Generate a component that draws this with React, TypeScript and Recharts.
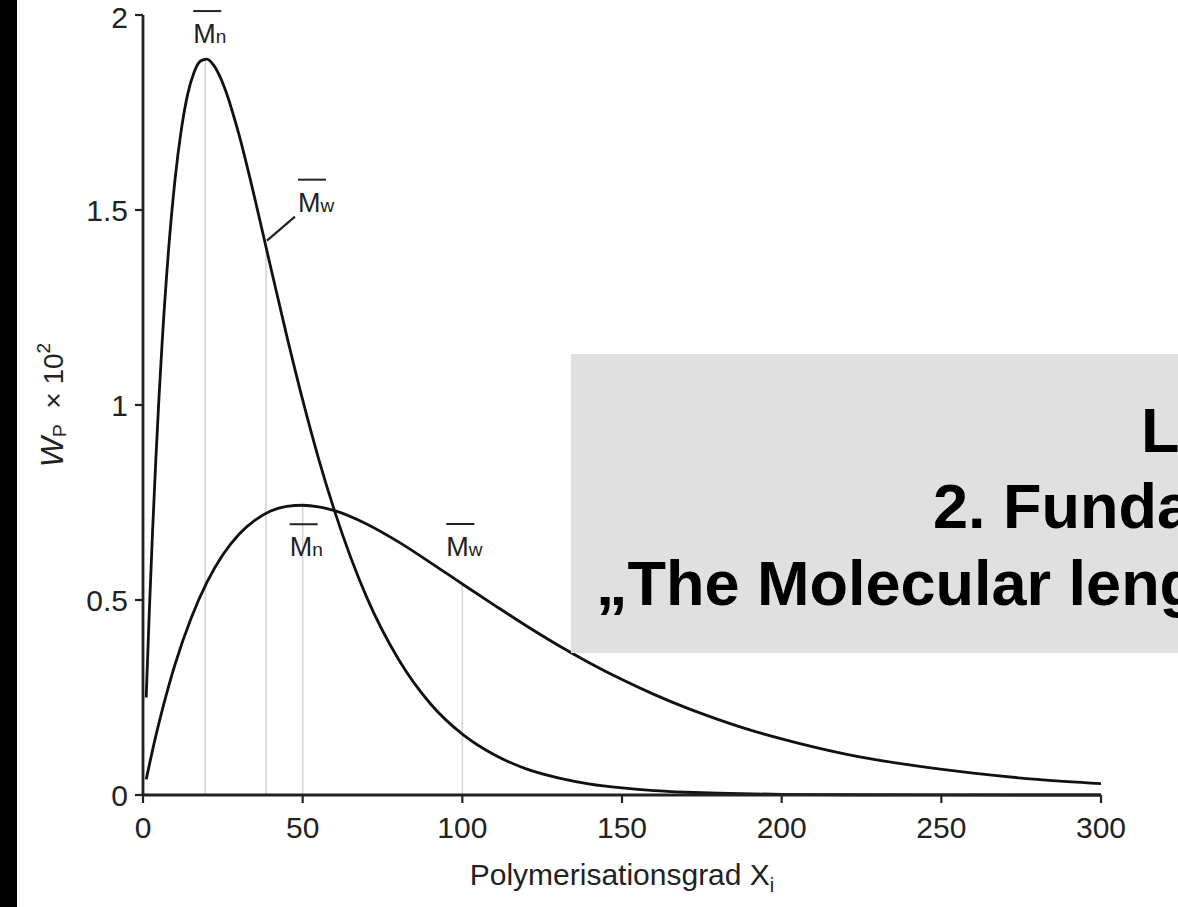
import React from 'react';
import { LineChart, Line, XAxis, YAxis, ReferenceLine, ReferenceDot } from 'recharts';

// ---- data (W_P x 10^2 versus degree of polymerisation X_i) ----
const xTicks = [0, 50, 100, 150, 200, 250, 300];
const yTicks = [0, 0.5, 1, 1.5, 2];

const narrowX = [1, 2, 3, 4, 5, 6, 8, 10, 12, 14, 16, 18, 20, 22, 24, 26, 28, 30, 35, 39, 45, 50, 55, 60, 70, 80, 90, 100, 110, 120, 130, 140, 150, 160, 170, 180, 200, 220, 250, 300];
const narrowW = [0.25, 0.475, 0.677, 0.857, 1.018, 1.161, 1.397, 1.576, 1.706, 1.797, 1.853, 1.882, 1.887, 1.873, 1.844, 1.803, 1.752, 1.695, 1.53, 1.388, 1.178, 1.013, 0.862, 0.728, 0.508, 0.348, 0.234, 0.156, 0.103, 0.067, 0.044, 0.028, 0.018, 0.011, 0.007, 0.0045, 0.0017, 0.0006, 0.0001, 0];

const wideX = [1, 2, 4, 6, 8, 10, 15, 20, 25, 30, 35, 40, 45, 50, 55, 60, 70, 80, 90, 100, 110, 120, 130, 140, 150, 160, 170, 180, 190, 200, 220, 240, 260, 280, 300];
const wideW = [0.04, 0.078, 0.151, 0.217, 0.278, 0.334, 0.452, 0.545, 0.616, 0.668, 0.704, 0.728, 0.74, 0.743, 0.739, 0.729, 0.695, 0.649, 0.596, 0.541, 0.487, 0.434, 0.384, 0.338, 0.296, 0.258, 0.224, 0.194, 0.167, 0.144, 0.105, 0.077, 0.056, 0.04, 0.029];

// averages: Mn / Mw of each distribution (x position, curve height, subscript)
const avgX = [19.5, 38.5, 50, 100];
const avgW = [1.887, 1.406, 0.743, 0.541];
const avgSub = ['n', 'w', 'n', 'w'];

const titleLines = ['Lecture', '2. Fundamentals', '\u201EThe Molecular length distribution\u201C'];

const narrowData = narrowX.map((x, i) => ({ x, y: narrowW[i] }));
const wideData = wideX.map((x, i) => ({ x, y: wideW[i] }));

const FONT = '"Liberation Sans", Arial, Helvetica, sans-serif';
const INK = '#222';

// label placement relative to the anchor point (pixels)
const labelOffsets = [
  { dx: -12, dy: -16, leader: null },
  { dx: 32, dy: -35, leader: [1, -6, 29, -30] },
  { dx: -13, dy: 51, leader: null },
  { dx: -16, dy: -28, leader: null },
];

function MBar(props: any) {
  const { cx, cy, idx } = props;
  const o = labelOffsets[idx];
  const tx = cx + o.dx;
  const ty = cy + o.dy;
  return (
    <g>
      {o.leader && (
        <line x1={cx + o.leader[0]} y1={cy + o.leader[1]} x2={cx + o.leader[2]} y2={cy + o.leader[3]} stroke={INK} strokeWidth={2.2} />
      )}
      <line x1={tx} x2={tx + 28} y1={ty - 32} y2={ty - 32} stroke={INK} strokeWidth={2} />
      <text x={tx} y={ty} fill={INK} fontFamily={FONT}>
        <tspan fontSize={27}>M</tspan>
        <tspan fontSize={19}>{avgSub[idx]}</tspan>
      </text>
    </g>
  );
}

function XTitle(props: any) {
  const vb = props.viewBox || { x: 143, y: 795, width: 958 };
  return (
    <text x={vb.x + vb.width / 2} y={vb.y + 90} textAnchor="middle" fill={INK} fontFamily={FONT} fontSize={30}>
      Polymerisationsgrad X<tspan fontSize={20} dy={7}>i</tspan>
    </text>
  );
}

function YTitle(props: any) {
  const vb = props.viewBox || { x: 83, y: 15, width: 60, height: 780 };
  const cx = vb.x - 20;
  const cy = vb.y + vb.height / 2;
  return (
    <text x={cx} y={cy} transform={`rotate(-90, ${cx}, ${cy})`} textAnchor="middle" fill={INK} fontFamily={FONT} fontSize={28}>
      <tspan fontStyle="italic" fontSize={32}>W</tspan>
      <tspan fontSize={19} dy={3}>P</tspan>
      <tspan dy={-3}>{'\u00A0\u00A0\u00D7\u00A010'}</tspan>
      <tspan fontSize={19} dy={-13}>2</tspan>
    </text>
  );
}

export default function App() {
  return (
    <div style={{ position: 'absolute', left: 0, top: 0, width: 1178, height: 907, overflow: 'hidden', background: '#fff' }}>
      <div style={{ position: 'absolute', left: 0, top: 0 }}>
        <LineChart width={1178} height={907} margin={{ top: 15, right: 77, bottom: 52, left: 83 }}>
          <XAxis
            dataKey="x"
            type="number"
            domain={[0, 300]}
            ticks={xTicks}
            height={60}
            tickSize={8}
            tickMargin={14}
            axisLine={{ stroke: INK, strokeWidth: 3 }}
            tickLine={{ stroke: INK, strokeWidth: 2.2 }}
            tick={{ fill: INK, fontSize: 30, fontFamily: FONT }}
            label={<XTitle />}
          />
          <YAxis
            type="number"
            domain={[0, 2]}
            ticks={yTicks}
            width={60}
            tickSize={8}
            tickMargin={7}
            axisLine={{ stroke: INK, strokeWidth: 2.8 }}
            tickLine={{ stroke: INK, strokeWidth: 2.2 }}
            tick={{ fill: INK, fontSize: 30, fontFamily: FONT }}
            label={<YTitle />}
          />
          {avgX.map((x, i) => (
            <ReferenceLine
              key={'rl' + i}
              segment={[{ x, y: 0 }, { x, y: avgW[i] }]}
              stroke="#d4d4d4"
              strokeWidth={1.6}
              ifOverflow="visible"
            />
          ))}
          <Line data={narrowData} dataKey="y" type="monotone" stroke="#111" strokeWidth={2.8} dot={false} activeDot={false} isAnimationActive={false} />
          <Line data={wideData} dataKey="y" type="monotone" stroke="#111" strokeWidth={2.8} dot={false} activeDot={false} isAnimationActive={false} />
          {avgX.map((x, i) => (
            <ReferenceDot
              key={'rd' + i}
              x={x}
              y={avgW[i]}
              r={0}
              ifOverflow="visible"
              shape={(p: any) => <MBar cx={p.cx} cy={p.cy} idx={i} />}
            />
          ))}
        </LineChart>
      </div>
      <div style={{ position: 'absolute', left: 0, top: 0, width: 17, height: 907, background: '#000' }} />
      <svg width={1178} height={907} style={{ position: 'absolute', left: 0, top: 0, pointerEvents: 'none' }}>
        <rect x={571} y={354} width={700} height={299} fill="#e0e0e0" />
        <text fontFamily={FONT} fontWeight="bold" fontSize={63} fill="#000">
          <tspan x={1141} y={452}>{titleLines[0]}</tspan>
          <tspan x={933} y={528}>{titleLines[1]}</tspan>
          <tspan x={596} y={605}>{titleLines[2]}</tspan>
        </text>
      </svg>
    </div>
  );
}
